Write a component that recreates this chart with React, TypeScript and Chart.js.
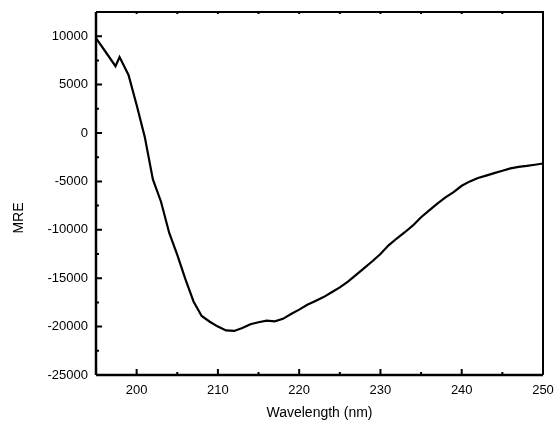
import React, { useEffect, useRef } from "react";
import { Chart, registerables } from "chart.js";

Chart.register(...registerables);

const wavelength = [
  195, 196, 197.4, 197.9, 199, 200, 201, 202, 203, 204, 205, 206, 207, 208, 209, 210,
  211, 212, 213, 214, 215, 216, 217, 218, 219, 220, 221, 222, 223, 224, 225, 226,
  227, 228, 229, 230, 231, 232, 233, 234, 235, 236, 237, 238, 239, 240, 241, 242,
  243, 244, 245, 246, 247, 248, 249, 250,
];
const mre = [
  9800, 8600, 6900, 7850, 6000, 2900, -400, -4800, -7100, -10300, -12600, -15100, -17400, -18900, -19500, -20000,
  -20400, -20450, -20150, -19750, -19550, -19380, -19450, -19200, -18700, -18250, -17750, -17350, -16950, -16450, -15950, -15350,
  -14650, -13950, -13250, -12500, -11600, -10900, -10250, -9550, -8700, -8000, -7300, -6650, -6100, -5450, -5000, -4650,
  -4400, -4150, -3900, -3650, -3500, -3400, -3280, -3150,
];
const xMajorTicks = [200, 210, 220, 230, 240, 250];
const xMinorTicks = [205, 215, 225, 235, 245];
const yMajorTicks = [-25000, -20000, -15000, -10000, -5000, 0, 5000, 10000];
const yMinorTicks = [-22500, -17500, -12500, -7500, -2500, 2500, 7500];
const xTitle = "Wavelength (nm)";
const yTitle = "MRE";

const framePlugin = {
  id: "frame",
  afterDraw(chart: any) {
    const { ctx, chartArea } = chart;
    const xs = chart.scales.x;
    const ys = chart.scales.y;
    const { left, right, top, bottom } = chartArea;
    ctx.save();
    ctx.strokeStyle = "#000";
    ctx.lineWidth = 2.5;
    ctx.beginPath();
    ctx.moveTo(left, bottom);
    ctx.lineTo(right, bottom);
    ctx.moveTo(left, top);
    ctx.lineTo(left, bottom);
    ctx.stroke();
    ctx.lineWidth = 2;
    ctx.beginPath();
    ctx.moveTo(left, top);
    ctx.lineTo(right, top);
    ctx.lineTo(right, bottom);
    ctx.stroke();
    ctx.lineWidth = 2;
    ctx.beginPath();
    xMajorTicks.forEach((v) => {
      const p = xs.getPixelForValue(v);
      ctx.moveTo(p, bottom);
      ctx.lineTo(p, bottom - 6);
      ctx.moveTo(p, top);
      ctx.lineTo(p, top + 2);
    });
    xMinorTicks.forEach((v) => {
      const p = xs.getPixelForValue(v);
      ctx.moveTo(p, bottom);
      ctx.lineTo(p, bottom - 3);
      ctx.moveTo(p, top);
      ctx.lineTo(p, top + 2);
    });
    yMajorTicks.forEach((v) => {
      const p = ys.getPixelForValue(v);
      ctx.moveTo(left, p);
      ctx.lineTo(left + 6, p);
    });
    yMinorTicks.forEach((v) => {
      const p = ys.getPixelForValue(v);
      ctx.moveTo(left, p);
      ctx.lineTo(left + 3, p);
    });
    ctx.stroke();
    ctx.fillStyle = "#000";
    ctx.font = "14px 'Liberation Sans', Arial, sans-serif";
    ctx.textAlign = "center";
    ctx.textBaseline = "middle";
    ctx.fillText(xTitle, (left + right) / 2, 413);
    ctx.translate(19, 218);
    ctx.rotate(-Math.PI / 2);
    ctx.fillText(yTitle, 0, 0);
    ctx.restore();
  },
};

export default function App() {
  const ref = useRef<HTMLCanvasElement | null>(null);
  useEffect(() => {
    if (!ref.current) return;
    const font = { family: "'Liberation Sans', Arial, sans-serif", size: 13 };
    const chart = new Chart(ref.current, {
      type: "line",
      data: {
        datasets: [
          {
            data: wavelength.map((w, i) => ({ x: w, y: mre[i] })),
            borderColor: "#000",
            borderWidth: 2.2,
            pointRadius: 0,
            tension: 0,
            fill: false,
          },
        ],
      },
      options: {
        animation: false,
        responsive: false,
        maintainAspectRatio: false,
        layout: { padding: { left: 0, right: 11, top: 12, bottom: 0 } },
        plugins: { legend: { display: false }, tooltip: { enabled: false } },
        scales: {
          x: {
            type: "linear",
            min: 195,
            max: 250,
            grid: { display: false, drawTicks: false },
            border: { display: false },
            afterBuildTicks: (s: any) => {
              s.ticks = xMajorTicks.map((v) => ({ value: v }));
            },
            afterFit: (s: any) => {
              s.height = 49;
              s.paddingLeft = 0;
              s.paddingRight = 0;
            },
            ticks: {
              color: "#000",
              font,
              padding: 8,
              maxRotation: 0,
              autoSkip: false,
              callback: (v: any) => String(v),
            },
          },
          y: {
            type: "linear",
            min: -25000,
            max: 12500,
            grid: { display: false, drawTicks: false },
            border: { display: false },
            afterBuildTicks: (s: any) => {
              s.ticks = yMajorTicks.map((v) => ({ value: v }));
            },
            afterFit: (s: any) => {
              s.width = 96;
              s.paddingTop = 0;
              s.paddingBottom = 0;
            },
            ticks: {
              color: "#000",
              font,
              padding: 8,
              autoSkip: false,
              callback: (v: any) => String(v),
            },
          },
        },
      },
      plugins: [framePlugin],
    });
    return () => chart.destroy();
  }, []);
  return (
    <div style={{ position: "fixed", left: 0, top: 0, width: 554, height: 424, background: "#fff" }}>
      <canvas ref={ref} width={554} height={424} style={{ width: 554, height: 424 }} />
    </div>
  );
}
